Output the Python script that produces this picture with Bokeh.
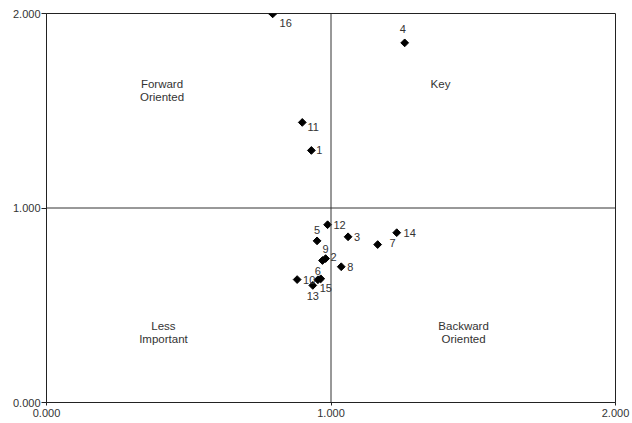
import math
from bokeh.plotting import figure
from bokeh.models import Span, ColumnDataSource, FixedTicker, CustomJSTickFormatter
from bokeh.core.properties import value
from bokeh.embed import file_html
from bokeh.resources import INLINE

# data
ids = ["1", "2", "3", "4", "5", "6", "7", "8", "9", "10", "11", "12", "13", "14", "15", "16"]
xs = [0.931, 0.981, 1.060, 1.259, 0.951, 0.954, 1.164, 1.036, 0.970, 0.881, 0.899, 0.988, 0.936, 1.231, 0.964, 0.795]
ys = [1.296, 0.740, 0.852, 1.849, 0.831, 0.631, 0.812, 0.698, 0.730, 0.632, 1.440, 0.914, 0.602, 0.873, 0.636, 1.998]
quad_names = ["Forward\nOriented", "Key", "Less\nImportant", "Backward\nOriented"]
quad_x = [0.406, 1.385, 0.411, 1.466]
quad_y = [1.604, 1.640, 0.360, 0.360]
tick_vals = [0, 1, 2]

# label offsets (screen px, styling)
dx = [8, 8, 9, -2, 0, 0, 15, 9, 3, 12, 11, 12, 0, 13, 5, 13]
dy = [0, -2, 0, -14, -11, -9, -2, 0, -12, 0, 5, 0, 11, 0, 9, 9]

FONT = "Liberation Sans"

p = figure(width=632, height=423, x_range=(0, 2), y_range=(0, 2),
           output_backend="svg", toolbar_location=None,
           min_border_left=46, min_border_right=17, min_border_top=13, min_border_bottom=21)
p.xgrid.visible = False
p.ygrid.visible = False
p.outline_line_color = "#222222"
p.outline_line_width = 1

for ax in (p.xaxis[0], p.yaxis[0]):
    ax.ticker = FixedTicker(ticks=tick_vals)
    ax.formatter = CustomJSTickFormatter(code="return tick.toFixed(3);")
    ax.major_tick_in = 0
    ax.minor_tick_out = 0
    ax.minor_tick_in = 0
    ax.axis_line_color = "#222222"
    ax.major_tick_line_color = "#222222"
    ax.major_label_text_font = FONT
    ax.major_label_text_font_size = "11px"
    ax.major_label_text_color = "#333333"
p.xaxis[0].major_tick_out = 3
p.xaxis[0].major_label_standoff = 3
p.yaxis[0].major_tick_out = 5
p.yaxis[0].major_label_standoff = 1

p.add_layout(Span(location=1, dimension="width", line_color="#333333", line_width=1))
p.add_layout(Span(location=1, dimension="height", line_color="#333333", line_width=1))

src = ColumnDataSource(dict(x=xs, y=ys, label=ids, dx=dx, dy=dy))
p.scatter("x", "y", source=src, marker="square", size=5.5, angle=math.pi / 4, color="black")
p.text("x", "y", text="label", source=src, x_offset="dx", y_offset="dy",
       text_font=value(FONT), text_font_size="11px", text_color="#333333",
       text_align="center", text_baseline="middle")

qsrc = ColumnDataSource(dict(x=quad_x, y=quad_y, t=quad_names))
p.text("x", "y", text="t", source=qsrc, text_font=value(FONT), text_font_size="11.5px",
       text_color="#333333", text_align="center", text_baseline="middle", text_line_height=1.1)

open("out.html", "w").write(file_html(p, INLINE))
